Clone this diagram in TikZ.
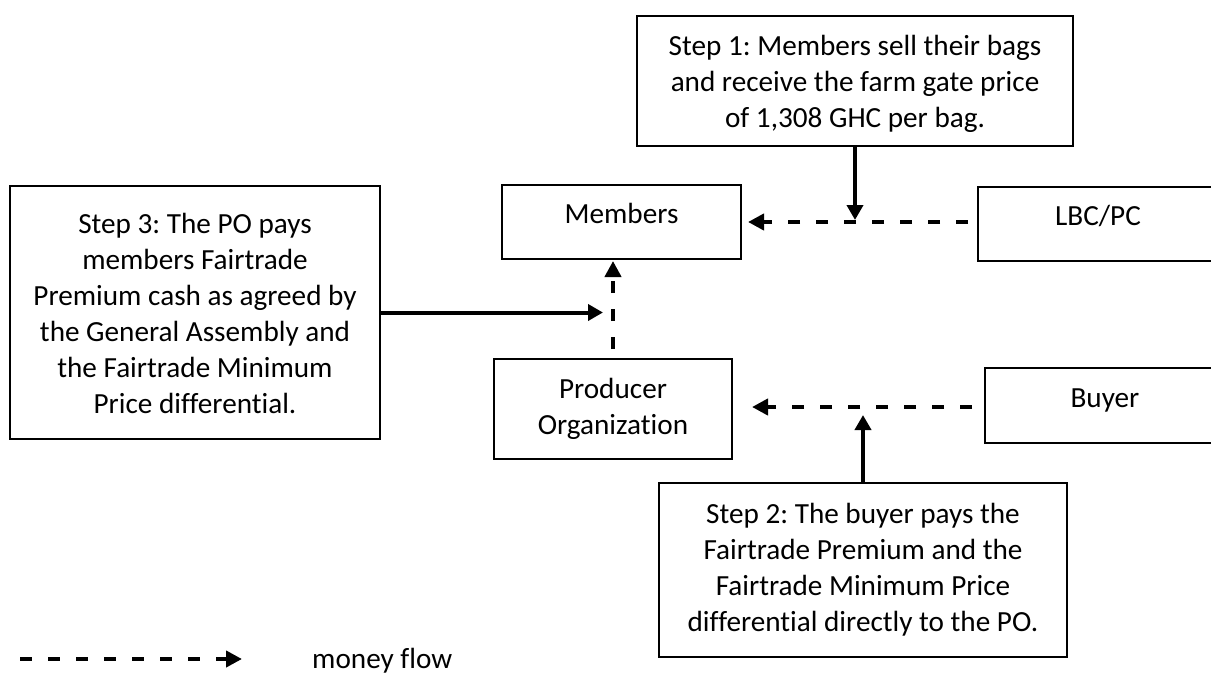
\documentclass[tikz,border=0pt]{standalone}
\usepackage{fontspec}
\setmainfont{Carlito}[Ligatures=NoCommon]
\usetikzlibrary{arrows.meta}
\frenchspacing
\newcommand\boxtxt[4]{\begin{minipage}[t][#1pt][t]{#2pt}\centering\fontsize{29.2}{36}\selectfont\vspace*{\dimexpr #3pt - 25.2pt\relax}#4\end{minipage}}
\tikzset{
  x=1pt, y=-1pt,
  stepbox/.style={draw=black, line width=1.3pt, inner sep=0pt, outer sep=0pt},
  money/.style={line width=4pt, dash pattern=on 12pt off 16pt, -{Triangle[length=16pt,width=16pt]}},
  solidarrow/.style={line width=4pt, -{Triangle[length=15pt,width=16pt]}}
}
\begin{document}
\begin{tikzpicture}
\useasboundingbox (0,0) rectangle (1211,675);
\clip (0,0) rectangle (1211,675);
\node[stepbox] (step1) at (855,81) {\boxtxt{130}{436}{39}{\strut Step 1: Members sell their bags\\\strut and receive the farm gate price\\\strut of 1,308 GHC per bag.}};
\node[stepbox] (members) at (621.5,222) {\boxtxt{74}{239}{38}{\strut Members}};
\node[stepbox] (lbc) at (1098,224) {\boxtxt{74}{240}{38}{\strut LBC/PC}};
\node[stepbox] (buyer) at (1105,405.5) {\boxtxt{75}{240}{39}{\strut Buyer}};
\node[stepbox] (step3) at (195,312.5) {\boxtxt{253}{370}{47}{\strut Step 3: The PO pays\\\strut members Fairtrade\\\strut Premium cash as agreed by\\\strut the General Assembly and\\\strut the Fairtrade Minimum\\\strut Price differential.}};
\node[stepbox] (po) at (613,409) {\boxtxt{100}{238}{39}{\strut Producer\\\strut Organization}};
\node[stepbox] (step2) at (863,570) {\boxtxt{174}{408}{40}{\strut Step 2: The buyer pays the\\\strut Fairtrade Premium and the\\\strut Fairtrade Minimum Price\\\strut differential directly to the PO.}};
\coordinate (lineA) at (0,222);
\coordinate (lineB) at (0,407);
% money flows
\draw[money, shorten <=10pt, shorten >=7pt] (lbc.west |- lineA) -- (members.east |- lineA);
\draw[money, shorten <=13pt, shorten >=20pt] (buyer.west |- lineB) -- (po.east |- lineB);
\draw[money, shorten <=10pt, shorten >=2pt] (po.north) -- (members.south -| po.north);
% step arrows
\draw[solidarrow, shorten >=2pt] (step1.south) -- (step1.south |- lineA);
\draw[solidarrow, shorten >=8pt] (step2.north) -- (step2.north |- lineB);
\draw[solidarrow, shorten >=10pt] (step3.east) -- (step3.east -| po.north);
% legend
\coordinate (legA) at (20,659);
\coordinate (legB) at (242,659);
\draw[money] (legA) -- (legB);
\node[anchor=base west, inner sep=0pt, font=\fontsize{29.2}{36}\selectfont] (legtext) at (312,668) {money flow};
\end{tikzpicture}
\end{document}
